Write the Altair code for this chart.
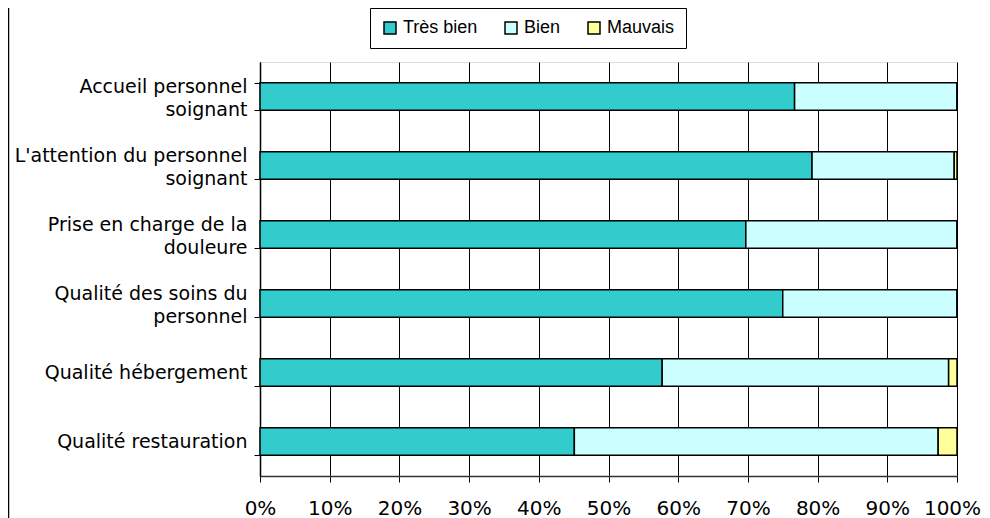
import altair as alt
import pandas as pd

categories = [
    "Accueil personnel|soignant",
    "L'attention du personnel|soignant",
    "Prise en charge de la|douleure",
    "Qualité des soins du|personnel",
    "Qualité hébergement",
    "Qualité restauration",
]
series = ["Très bien", "Bien", "Mauvais"]
tres_bien = [76.7, 79.2, 69.7, 75.0, 57.7, 45.1]
bien = [23.3, 20.4, 30.3, 25.0, 41.1, 52.2]
mauvais = [0.0, 0.4, 0.0, 0.0, 1.2, 2.7]
colors = ["#33CCCC", "#CCFFFF", "#FFFF99"]
x_ticks = [0, 10, 20, 30, 40, 50, 60, 70, 80, 90, 100]

rows = []
for i, c in enumerate(categories):
    for j, (s, vals) in enumerate(zip(series, [tres_bien, bien, mauvais])):
        rows.append({"cat": c, "serie": s, "ord": j, "val": vals[i]})
df = pd.DataFrame(rows)

W, H = 697, 414

bars = alt.Chart(df).mark_bar(stroke="black", strokeWidth=1.5).encode(
    y=alt.Y("cat:N", sort=categories, title=None,
            scale=alt.Scale(paddingInner=0.6, paddingOuter=0.3),
            axis=alt.Axis(labelExpr="split(datum.label, '|')", labelFont="DejaVu Sans",
                          labelFontSize=19, labelColor="black", labelLimit=0,
                          labelLineHeight=23,
                          labelOffset={"condition": {"test": "indexof(datum.label, '|') >= 0",
                                                     "value": -10},
                                       "value": 0},
                          tickBand="extent", tickColor="black",
                          tickSize=6, domainColor="black", domainWidth=1.5, labelPadding=7)),
    x=alt.X("val:Q", stack="normalize", title=None,
            scale=alt.Scale(domain=[0, 1], nice=False),
            axis=alt.Axis(format=".0%", values=[v / 100 for v in x_ticks], grid=True,
                          gridColor="black", gridOpacity=1, gridWidth=1,
                          labelFont="DejaVu Sans", labelFontSize=20, labelColor="black",
                          labelOffset={"condition": {"test": "datum.value >= 1", "value": -5},
                                       "value": 0},
                          tickColor="black", tickSize=6, domainColor="#333333",
                          domainWidth=1.5, labelPadding=16, labelFlush=False)),
    color=alt.Color("serie:N", sort=series,
                    scale=alt.Scale(domain=series, range=colors),
                    legend=alt.Legend(title=None, orient="none", direction="horizontal",
                                      legendX=110, legendY=-54, symbolType="square",
                                      symbolSize=144, symbolStrokeColor="black",
                                      symbolStrokeWidth=1.5, symbolOpacity=1,
                                      labelFont="Liberation Sans", labelFontSize=18,
                                      labelColor="black", columnPadding=24,
                                      labelOffset=4,
                                      strokeColor="black", fillColor="white",
                                      padding=11)),
    order=alt.Order("ord:Q"),
)

border = alt.Chart(pd.DataFrame({"a": [0]})).mark_rule(color="black", strokeWidth=1.5).encode(
    x=alt.value(-251.5), y=alt.value(-54), y2=alt.value(H + 48)
)

chart = alt.layer(bars, border).properties(
    width=W, height=H,
    autosize=alt.AutoSizeParams(type="none"),
    padding={"left": 252, "top": 54, "right": 25, "bottom": 42},
).configure_view(stroke="#999999", strokeWidth=1.5).configure(background="white")

chart.save("out.html", embed_options={"renderer": "svg", "actions": False})
